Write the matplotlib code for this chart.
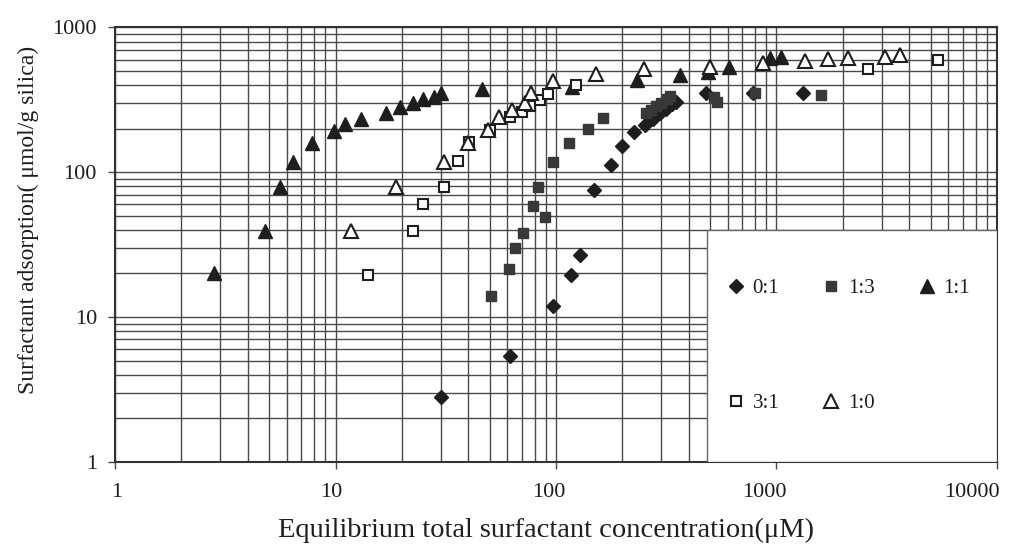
import matplotlib
matplotlib.use("Agg")
import matplotlib.pyplot as plt
from matplotlib.patches import Rectangle
from matplotlib.ticker import FixedLocator, NullFormatter, LogLocator
from matplotlib.transforms import ScaledTranslation

plt.rcParams['font.family'] = ['Liberation Serif', 'DejaVu Serif']

# ratio 0:1 (filled diamonds)
x_01 = [30, 62, 97, 117, 128, 148, 177, 200, 226, 253, 275, 295, 315, 335, 350, 480, 785, 1320]
y_01 = [2.8, 5.4, 12, 19.5, 27, 75, 112, 152, 190, 212, 235, 255, 275, 295, 305, 350, 350, 350]

# ratio 1:3 (filled squares)
x_13 = [50.6, 61, 65, 70.6, 79, 83, 89, 97, 114, 139, 163, 255, 270, 285, 300, 318, 330, 520, 535, 800, 1590]
y_13 = [14, 21.5, 30, 38, 58, 79, 49, 118, 160, 199, 236, 256, 270, 285, 300, 320, 335, 330, 305, 355, 340]

# ratio 1:1 (filled triangles)
x_11 = [2.8, 4.8, 5.6, 6.4, 7.8, 9.8, 11, 13, 17, 19.6, 22.4, 25, 28, 30,
        46, 118, 232, 365, 490, 610, 930, 1050]
y_11 = [20, 39, 79, 117, 158, 194, 215, 235, 255, 280, 300, 320, 333, 350,
        375, 390, 435, 470, 490, 530, 620, 630]

# ratio 3:1 (open squares)
x_31 = [14, 22.5, 25, 31, 36, 40.5, 50, 62, 70, 76, 85, 92, 123, 2600, 5400]
y_31 = [19.5, 39, 60, 79, 120, 163, 197, 240, 262, 285, 316, 345, 400, 515, 600]

# ratio 1:0 (open triangles)
x_10 = [11.7, 18.8, 31, 40, 49, 55, 63, 72, 77, 97, 152, 250, 500, 870, 1350, 1720, 2120, 3100, 3630]
y_10 = [39, 79, 117, 160, 195, 240, 270, 300, 355, 430, 480, 515, 530, 565, 590, 605, 620, 630, 650]

xticks = [1, 10, 100, 1000, 10000]
yticks = [1, 10, 100, 1000]

ink = '#1e1e1e'
grid_col = '#4a4a4a'

fig = plt.figure(figsize=(10.28, 5.54), dpi=100)
ax = fig.add_axes([0.1119, 0.1666, 0.8579, 0.7838])
ax.set_xscale('log')
ax.set_yscale('log')
ax.set_xlim(1, 10000)
ax.set_ylim(1, 1000)

ax.plot(x_01, y_01, linestyle='none', marker='D', ms=6.8, color=ink, mec=ink, label='0:1', zorder=3)
ax.plot(x_13, y_13, linestyle='none', marker='s', ms=7.4, color='#383838', mec='#383838', label='1:3', zorder=3)
ax.plot(x_11, y_11, linestyle='none', marker='^', ms=9.5, color=ink, mec=ink, label='1:1', zorder=3)
ax.plot(x_31, y_31, linestyle='none', marker='s', ms=7.4, mfc='white', mec=ink, mew=1.5, label='3:1', zorder=3)
ax.plot(x_10, y_10, linestyle='none', marker='^', ms=9.5, mfc='white', mec=ink, mew=1.5, label='1:0', zorder=3)

ax.xaxis.set_major_locator(FixedLocator(xticks))
ax.yaxis.set_major_locator(FixedLocator(yticks))
ax.set_xticklabels([str(v) for v in xticks])
ax.set_yticklabels([str(v) for v in yticks])
ax.xaxis.set_minor_locator(LogLocator(base=10, subs=range(2, 10)))
ax.yaxis.set_minor_locator(LogLocator(base=10, subs=range(2, 10)))
ax.xaxis.set_minor_formatter(NullFormatter())
ax.yaxis.set_minor_formatter(NullFormatter())
ax.tick_params(which='major', length=5, width=1, color=grid_col, labelsize=16, labelcolor=ink)
ax.tick_params(axis='x', which='major', pad=10)
ax.tick_params(axis='y', which='major', pad=8)
ax.tick_params(which='minor', length=0)
ax.grid(True, which='both', color=grid_col, linewidth=1.0)
ax.set_axisbelow(True)
for s in ax.spines.values():
    s.set_color('#333333')
    s.set_linewidth(1.5)

ax.set_xlabel('Equilibrium total surfactant concentration(μM)', fontsize=20.5, color=ink,
              labelpad=12, x=0.489)
ax.set_ylabel('Surfactant adsorption( μmol/g silica)', fontsize=17, color=ink,
              labelpad=10, y=0.557)

# the scanned x labels drift left toward the right end
fig.canvas.draw()
for lbl, dx in zip(ax.get_xticklabels(), [2, -4, -7, -12, -25]):
    lbl.set_transform(lbl.get_transform() + ScaledTranslation(dx / 100, 0, fig.dpi_scale_trans))

# legend panel
box = Rectangle((0.671, 0.0), 0.329, 0.534, transform=ax.transAxes,
                facecolor='white', edgecolor='#666666', linewidth=1.0, zorder=4)
ax.add_patch(box)
h, l = ax.get_legend_handles_labels()
order = [0, 3, 1, 4, 2]
leg = ax.legend([h[i] for i in order], [l[i] for i in order], ncol=3,
                loc='center', bbox_to_anchor=(0.667, 0.0, 0.329, 0.534),
                frameon=False, fontsize=15, labelspacing=4.6, columnspacing=2.05,
                handlelength=0.9, handletextpad=0.35, borderpad=0)
leg.set_zorder(5)
for t in leg.get_texts():
    t.set_color(ink)

fig.savefig('out.png', dpi=100)
